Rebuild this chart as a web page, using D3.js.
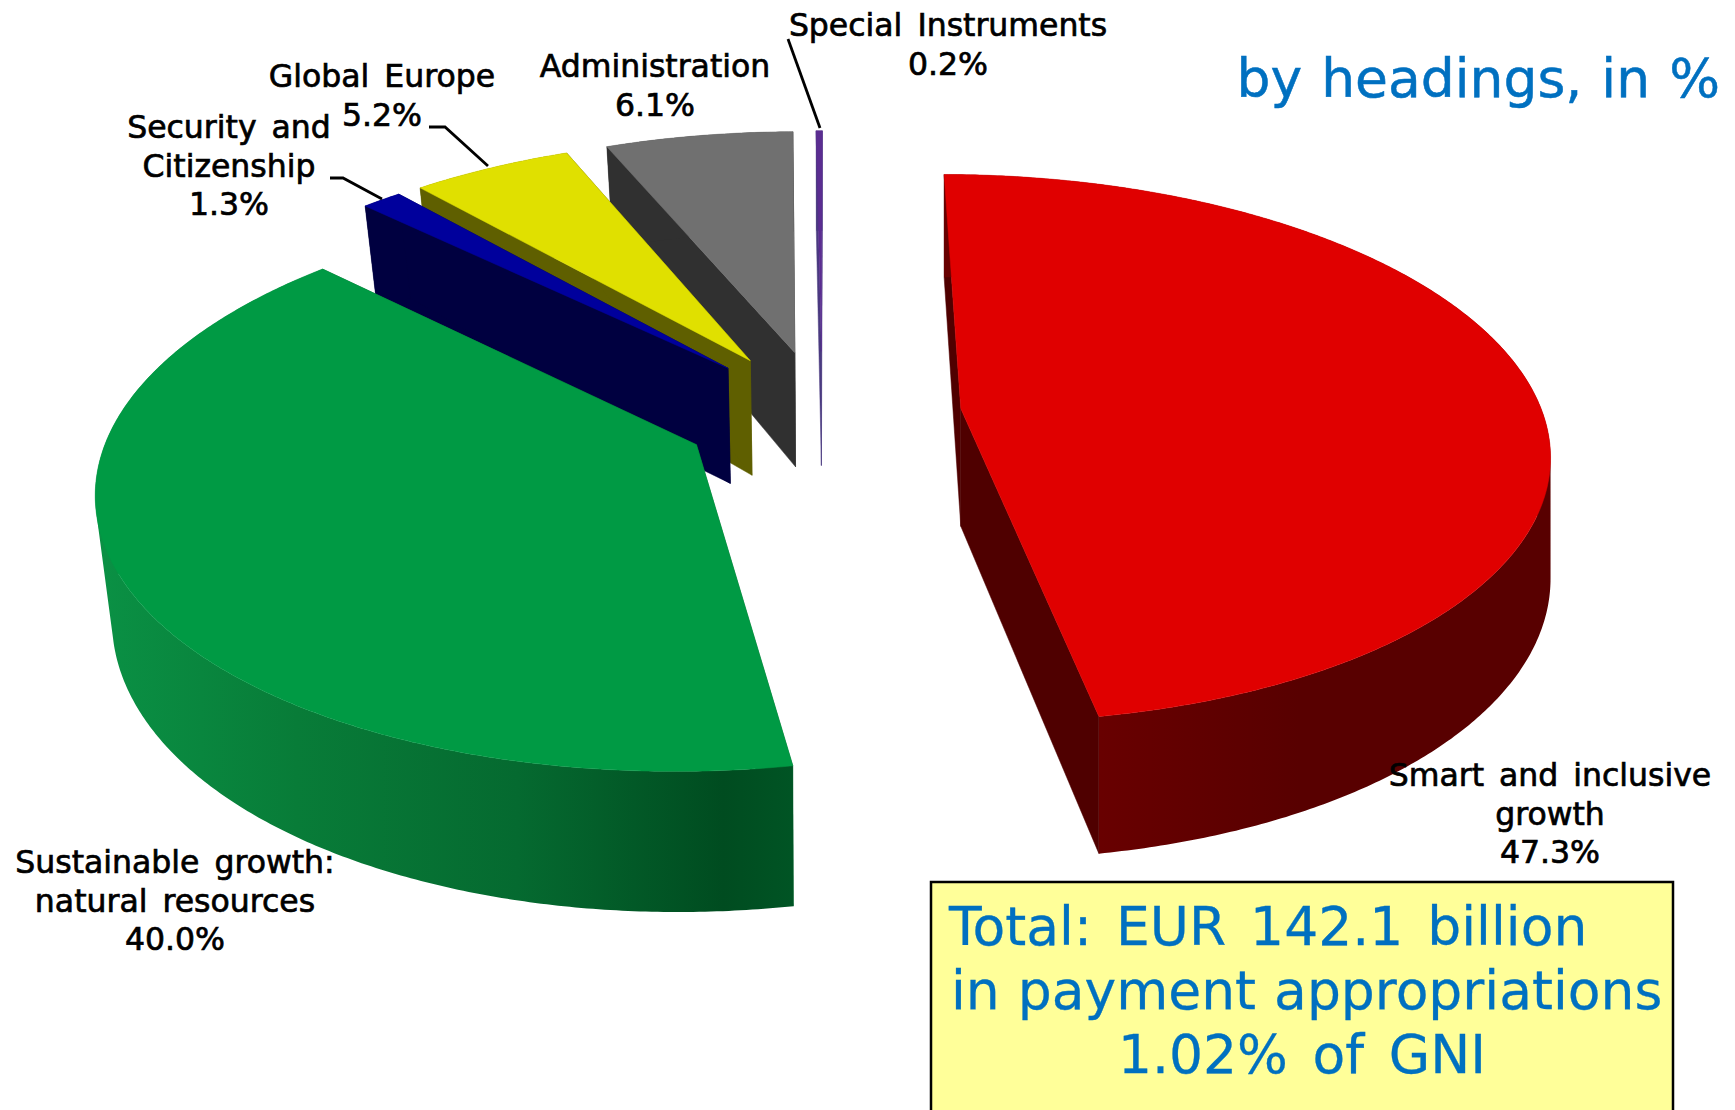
<!DOCTYPE html>
<html><head><meta charset="utf-8">
<script src="https://cdn.jsdelivr.net/npm/d3@7/dist/d3.min.js"></script>
<style>html,body{margin:0;padding:0;background:#fff;overflow:hidden}svg{display:block}
text{font-family:"DejaVu Sans",Verdana,sans-serif}</style></head><body>
<svg id="c" width="1735" height="1110"></svg>
<script>
const categories=["Smart and inclusive growth","Sustainable growth: natural resources","Security and Citizenship","Global Europe","Administration","Special Instruments"];
const values=[47.3,40.0,1.3,5.2,6.1,0.2];
const topColors=["#e00000","#009a44","#00009c","#e0e000","#707070","#5b2d91"];
const sideColors=["#5a0000","#0a6a30","#000040","#5f5f00","#303030","#4a3a80"];
const labelLines=[["Smart and inclusive","growth","47.3%"],["Sustainable growth:","natural resources","40.0%"],["Security and","Citizenship","1.3%"],["Global Europe","5.2%"],["Administration","6.1%"],["Special Instruments","0.2%"]];
const labelPos=[[1550,786],[175,873],[229,138],[382,87],[655,77],[948,36]];
const leaders=[null,null,[[330,178],[343,178],[382,199]],[[429,127],[445,127],[488,166]],null,[[788,39],[820,128]]];

const svg=d3.select("#c");
const cx=822,cy=414,A=582,B=269.5,D=118,p=0.145,leftInset=14,explode=0.24;
const rad=Math.PI/180;
function project(u,v,h){const w=1-p*v;return [cx+A*u/w+h*leftInset*Math.max(0,-u),cy+(B*v+D*h)/w];}
const pie=d3.pie().sort(null).startAngle(0.1*rad).endAngle(360.1*rad);
const arcs=pie(values);
const line=d3.line();

const defs=svg.append("defs");
const gg=defs.append("linearGradient").attr("id","greenSide").attr("gradientUnits","userSpaceOnUse")
 .attr("x1",105).attr("x2",792).attr("y1",0).attr("y2",0);
[[0,"#0a9044"],[0.28,"#087c38"],[0.6,"#056a30"],[0.9,"#004c20"],[1,"#005424"]].forEach(s=>gg.append("stop").attr("offset",s[0]).attr("stop-color",s[1]));
const rg=defs.append("linearGradient").attr("id","redSide").attr("gradientUnits","userSpaceOnUse")
 .attr("x1",1100).attr("x2",1300).attr("y1",0).attr("y2",0);
[[0,"#680000"],[1,"#580000"]].forEach(s=>rg.append("stop").attr("offset",s[0]).attr("stop-color",s[1]));

const sideFill=i=>i===0?"url(#redSide)":i===1?"url(#greenSide)":sideColors[i];
const radialFill=i=>i===0?"#4f0000":sideColors[i];
const order=[5,4,3,2,1,0];
const gPie=svg.append("g");
order.forEach(i=>{
  const a=arcs[i];
  const mid=(a.startAngle+a.endAngle)/2;
  const ox=explode*Math.sin(mid),oy=-explode*Math.cos(mid);
  const n=Math.max(2,Math.ceil((a.endAngle-a.startAngle)/(0.5*rad)));
  const angs=d3.range(n+1).map(k=>a.startAngle+(a.endAngle-a.startAngle)*k/n);
  const rim=h=>angs.map(t=>project(ox+Math.sin(t),oy-Math.cos(t),h));
  const apex=h=>project(ox,oy,h);
  const topRim=rim(0),botRim=rim(1);
  const g=gPie.append("g").attr("class","slice").attr("data-cat",categories[i]);
  [[apex(0),topRim[0],botRim[0],apex(1)],[apex(0),topRim[n],botRim[n],apex(1)]].forEach(q4=>{
    g.append("path").attr("d",line(q4)+"Z").attr("fill",radialFill(i)).attr("stroke",radialFill(i)).attr("stroke-width",0.5);
  });
  // outer wall: one path of consistently wound quads, so the silhouette is filled without seams
  const wall=d3.range(n).map(k=>{
    const quad=[topRim[k],topRim[k+1],botRim[k+1],botRim[k]];
    if(d3.polygonArea(quad)<0) quad.reverse();
    return line(quad)+"Z";
  }).join("");
  g.append("path").attr("d",wall).attr("fill",sideFill(i)).attr("fill-rule","nonzero");
  g.append("path").attr("d",line([apex(0)].concat(topRim))+"Z").attr("fill",topColors[i]).attr("stroke",topColors[i]).attr("stroke-width",0.5);
});

leaders.forEach(l=>{ if(l) svg.append("path").attr("d",line(l)).attr("fill","none").attr("stroke","#000").attr("stroke-width",2.8);});
const lh=38.7;
labelLines.forEach((ls,i)=>{
  const t=svg.append("text").attr("text-anchor","middle").attr("font-size",31.5).attr("word-spacing",5)
    .attr("fill","#000").attr("stroke","#000").attr("stroke-width",0.7);
  ls.forEach((s,k)=>t.append("tspan").attr("x",labelPos[i][0]).attr("y",labelPos[i][1]+k*lh).text(s));
});
svg.append("text").attr("x",1720).attr("y",97).attr("text-anchor","end").attr("font-size",53.5).attr("word-spacing",2)
  .attr("fill","#0070c0").attr("stroke","#0070c0").attr("stroke-width",0.5).text("by headings, in %");
svg.append("rect").attr("x",931).attr("y",882).attr("width",742).attr("height",260).attr("fill","#ffff99").attr("stroke","#000").attr("stroke-width",2.5);
const boxLines=[["Total: EUR 142.1 billion",949,945,"start",7],["in payment appropriations",951,1009,"start",1],["1.02% of GNI",1302,1073,"middle",7.7]];
boxLines.forEach(b=>svg.append("text").attr("x",b[1]).attr("y",b[2]).attr("text-anchor",b[3]).attr("word-spacing",b[4]).attr("font-size",53.5).attr("fill","#0070c0").attr("stroke","#0070c0").attr("stroke-width",0.3).text(b[0]));
</script></body></html>
